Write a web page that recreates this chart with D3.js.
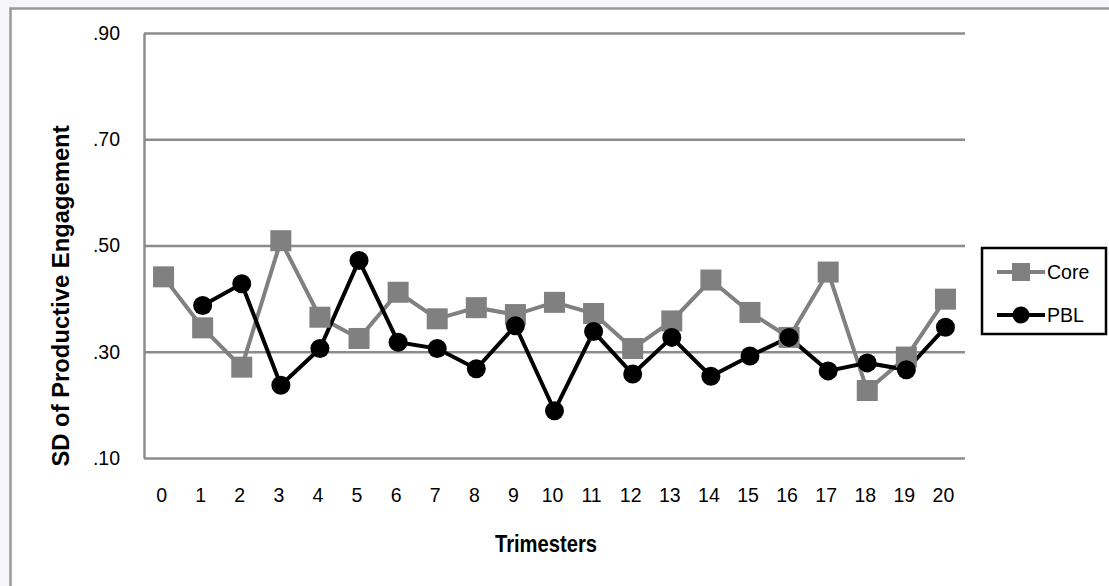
<!DOCTYPE html>
<html>
<head>
<meta charset="utf-8">
<script src="https://cdn.jsdelivr.net/npm/d3@7"></script>
<style>
  body { margin: 0; background: #f6f6f8; }
  svg { display: block; }
</style>
</head>
<body>
<div class="vis"></div>
<script>
// data
var trimesters = [0, 1, 2, 3, 4, 5, 6, 7, 8, 9, 10, 11, 12, 13, 14, 15, 16, 17, 18, 19, 20];
var coreValues = [0.441, 0.345, 0.271, 0.509, 0.365, 0.325, 0.412, 0.362, 0.383, 0.370, 0.393,
                  0.372, 0.306, 0.358, 0.435, 0.374, 0.327, 0.450, 0.227, 0.290, 0.399];
// PBL has no value at trimester 0
var pblValues  = [null, 0.387, 0.428, 0.237, 0.306, 0.472, 0.318, 0.306, 0.268, 0.349, 0.189,
                  0.338, 0.258, 0.327, 0.254, 0.292, 0.327, 0.264, 0.279, 0.266, 0.346];
var yTicks = [0.10, 0.30, 0.50, 0.70, 0.90];
var seriesNames = ["Core", "PBL"];

var W = 1109, H = 586;
var plot = { left: 144, right: 965, top: 33, bottom: 458 };
var gridColor = "#8c8c8c";
var coreColor = "#808080";

var svg = d3.select('div.vis')
            .append('svg')
            .attr('width', W)
            .attr('height', H);

// chart frame
svg.append('rect')
   .attr('x', 10.5).attr('y', 8.5)
   .attr('width', W + 20).attr('height', H + 20)
   .attr('fill', '#ffffff')
   .attr('stroke', '#999999')
   .attr('stroke-width', 2.5);

var x = d3.scaleBand()
          .domain(trimesters)
          .range([plot.left, plot.right]);
var y = d3.scaleLinear()
          .domain([0.1, 0.9])
          .range([plot.bottom, plot.top]);

function cx(d) { return x(d) + x.bandwidth() / 2; }

// y axis + gridlines
var yAxis = svg.append('g')
               .attr('transform', 'translate(' + plot.left + ',0)')
               .call(d3.axisLeft(y)
                       .tickValues(yTicks)
                       .tickSize(-(plot.right - plot.left))
                       .tickSizeOuter(0)
                       .tickPadding(24)
                       .tickFormat(function(d) { return d3.format('.2f')(d).replace(/^0/, ''); }));
yAxis.select('.domain').attr('stroke', gridColor).attr('stroke-width', 2.5);
yAxis.selectAll('.tick line').attr('stroke', gridColor).attr('stroke-width', 2.5);
yAxis.selectAll('.tick text')
     .style('font-family', 'Liberation Sans, Arial, sans-serif')
     .style('font-size', '19.5px')
     .attr('fill', '#000');

// x axis (labels only)
var xAxis = svg.append('g')
               .attr('transform', 'translate(0,' + plot.bottom + ')')
               .call(d3.axisBottom(x).tickSize(0).tickPadding(30));
xAxis.select('.domain').remove();
xAxis.selectAll('.tick text')
     .style('font-family', 'Liberation Sans, Arial, sans-serif')
     .style('font-size', '19.5px')
     .attr('fill', '#000')
     .attr('x', -2);

// axis titles
svg.append('text')
   .text('Trimesters')
   .attr('text-anchor', 'middle')
   .attr('transform', 'translate(546,552) scale(0.86,1)')
   .style('font-family', 'Liberation Sans, Arial, sans-serif')
   .style('font-weight', 'bold')
   .style('font-size', '23.5px');

svg.append('text')
   .text('SD of Productive Engagement')
   .attr('text-anchor', 'middle')
   .attr('transform', 'translate(69,296) rotate(-90)')
   .style('font-family', 'Liberation Sans, Arial, sans-serif')
   .style('font-weight', 'bold')
   .style('font-size', '23.8px');

// lines
var coreData = trimesters.map(function(t, i) { return { t: t, v: coreValues[i] }; });
var pblData  = trimesters.map(function(t, i) { return { t: t, v: pblValues[i] }; })
                         .filter(function(d) { return d.v !== null; });

var line = d3.line()
             .x(function(d) { return cx(d.t); })
             .y(function(d) { return y(d.v); });

svg.append('path').datum(coreData)
   .attr('d', line).attr('fill', 'none')
   .attr('stroke', coreColor).attr('stroke-width', 4);

svg.append('path').datum(pblData)
   .attr('d', line).attr('fill', 'none')
   .attr('stroke', '#000').attr('stroke-width', 4);

var sq = 21;
svg.append('g').selectAll('rect')
   .data(coreData).enter()
   .append('rect')
   .attr('x', function(d) { return cx(d.t) - sq / 2; })
   .attr('y', function(d) { return y(d.v) - sq / 2; })
   .attr('width', sq).attr('height', sq)
   .attr('fill', coreColor);

svg.append('g').selectAll('circle')
   .data(pblData).enter()
   .append('circle')
   .attr('cx', function(d) { return cx(d.t); })
   .attr('cy', function(d) { return y(d.v); })
   .attr('r', 9.5)
   .attr('fill', '#000');

// legend
var legend = svg.append('g');
legend.append('rect')
      .attr('x', 982).attr('y', 248)
      .attr('width', 124).attr('height', 86)
      .attr('fill', '#fff')
      .attr('stroke', '#000').attr('stroke-width', 2.5);

var legendY = { Core: 272, PBL: 315 };
seriesNames.forEach(function(name) {
    var ly = legendY[name];
    var col = name === 'Core' ? coreColor : '#000';
    legend.append('line')
          .attr('x1', 997).attr('x2', 1045)
          .attr('y1', ly).attr('y2', ly)
          .attr('stroke', col).attr('stroke-width', 4);
    if (name === 'Core') {
        legend.append('rect')
              .attr('x', 1021 - 9).attr('y', ly - 9)
              .attr('width', 18).attr('height', 18)
              .attr('fill', col);
    } else {
        legend.append('circle')
              .attr('cx', 1021).attr('cy', ly)
              .attr('r', 8.5).attr('fill', col);
    }
    legend.append('text')
          .text(name)
          .attr('x', 1047).attr('y', ly + 7)
          .style('font-family', 'Liberation Sans, Arial, sans-serif')
          .style('font-size', '19.5px');
});
</script>
</body>
</html>
